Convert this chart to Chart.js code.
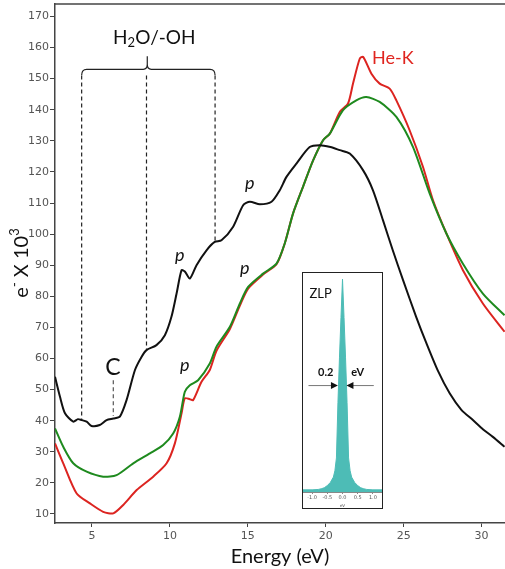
<!DOCTYPE html>
<html>
<head>
<meta charset="utf-8">
<script src="https://cdn.jsdelivr.net/npm/chart.js@4.4.0/dist/chart.umd.min.js"></script>
<style>
  body { margin: 0; background: #fff; }
  #wrap { position: relative; width: 505px; height: 569px; }
  #inset { position: absolute; left: 302px; top: 272px; width: 79px; height: 235px;
           border: 1px solid #222; background: #fff; }
</style>
</head>
<body>
<div id="wrap">
  <canvas id="main" width="505" height="569"></canvas>
  <div id="inset"><canvas id="zlp" width="79" height="235"></canvas></div>
</div>
<script>
// spectra (energy in eV, counts in e- x 10^3)
const blackEnergy = [2.63, 2.95, 3.27, 3.8, 4.1, 4.34, 4.66, 4.98, 5.5, 5.94, 6.37, 6.79, 7.22, 7.76, 8.18, 8.5, 9.14, 9.68, 10.1, 10.43, 10.75, 10.96, 11.28, 11.71, 12.35, 12.88, 13.31, 14.06, 14.7, 15.13, 15.77, 16.52, 17.05, 17.48, 18.12, 18.97, 19.6, 20.3, 20.9, 21.54, 22.4, 23.03, 23.67, 24.3, 24.96, 25.8, 26.45, 27.2, 27.95, 28.7, 29.44, 30.1, 30.72, 31.47];
const blackCounts = [54.1, 47.7, 42.4, 39.7, 40.5, 40.2, 39.7, 38.3, 38.6, 40.2, 40.7, 41.3, 46.6, 56.3, 60.5, 62.7, 64.3, 67.5, 73.4, 80.9, 88.4, 88.0, 85.7, 90, 94.8, 97.5, 98, 102.4, 109.3, 110.4, 109.6, 110.4, 114.1, 118.4, 122.7, 128, 128.6, 128, 127, 125.9, 120.5, 114.1, 104.5, 94.8, 85.2, 73.4, 65, 56, 48.8, 43.5, 40.2, 37.2, 34.8, 31.6];

const greenEnergy = [2.63, 3.16, 3.8, 4.66, 5.72, 6.58, 7.65, 8.72, 9.57, 10.21, 10.64, 10.96, 11.28, 11.81, 12.56, 12.99, 13.85, 14.49, 15.02, 15.98, 16.84, 17.37, 17.9, 18.54, 19.19, 19.83, 20.26, 21.1, 21.96, 22.6, 23.46, 24.53, 25.6, 26.67, 27.74, 28.8, 30.08, 31.47];
const greenCounts = [37.5, 31.6, 26.3, 23.6, 22, 22.5, 26.3, 29.5, 32.2, 35.9, 41.3, 49.3, 51.4, 53, 58.4, 63.8, 70.2, 77.7, 83, 87.3, 90.5, 97, 106.6, 115.2, 123.7, 130.2, 132.3, 139.8, 143, 144.1, 142.5, 137.7, 128, 113, 100.2, 90.5, 80.9, 73.9];

const redEnergy = [2.63, 3.16, 4.02, 4.87, 5.72, 6.37, 7.01, 7.87, 8.93, 9.79, 10.32, 10.75, 10.96, 11.28, 11.49, 12.03, 12.56, 12.99, 13.85, 14.49, 15.02, 15.98, 16.84, 17.37, 17.9, 18.54, 19.19, 19.83, 20.26, 20.9, 21.43, 21.75, 22.18, 22.4, 22.93, 23.46, 24.1, 24.53, 25.38, 26.24, 26.88, 27.74, 28.8, 30.08, 31.47];
const redCounts = [32.7, 26.3, 16.6, 13.4, 10.7, 10.2, 12.9, 17.7, 22, 26.3, 32.7, 42.4, 47.2, 46.9, 46.6, 52.5, 56.3, 62.5, 69.5, 77, 82.5, 87, 90.3, 97, 106.6, 115.2, 123.7, 130.2, 132.3, 139.3, 142, 148.4, 156.4, 157, 151.6, 148.4, 146.8, 143, 133.4, 121.6, 110.9, 100.2, 88.4, 77.7, 68.6];

// zero loss peak of the inset (relative height)
const zlpEnergy = [-1.3, -1.0, -0.8, -0.7, -0.6, -0.5, -0.4, -0.3, -0.25, -0.2, -0.15, -0.1, -0.05, 0, 0.05, 0.1, 0.15, 0.2, 0.25, 0.3, 0.4, 0.5, 0.6, 0.7, 0.8, 1.0, 1.3];
const zlpCounts = [0.01, 0.01, 0.012, 0.015, 0.02, 0.03, 0.045, 0.07, 0.1, 0.16, 0.42, 0.63, 0.82, 1, 0.82, 0.63, 0.42, 0.16, 0.1, 0.07, 0.045, 0.03, 0.02, 0.015, 0.012, 0.01, 0.01];

const xTicks = [5, 10, 15, 20, 25, 30];
const yTicks = [10, 20, 30, 40, 50, 60, 70, 80, 90, 100, 110, 120, 130, 140, 150, 160, 170];
const zlpTicks = [-1.0, -0.5, 0.0, 0.5, 1.0];

function toPoints(xs, ys) {
  return xs.map((v, i) => ({ x: v, y: ys[i] }));
}

// labels, dashed markers and brace
const annotations = {
  id: 'annotations',
  afterDatasetsDraw(chart) {
    const { ctx, chartArea: a, scales: { x, y } } = chart;
    const px = (v) => x.getPixelForValue(v);
    const py = (v) => y.getPixelForValue(v);
    ctx.save();

    // top frame line
    ctx.strokeStyle = '#444';
    ctx.lineWidth = 1.5;
    ctx.beginPath();
    ctx.moveTo(a.left, a.top);
    ctx.lineTo(a.right, a.top);
    ctx.stroke();

    // dashed markers under the brace
    ctx.strokeStyle = '#222';
    ctx.lineWidth = 1.2;
    ctx.setLineDash([4, 3]);
    [[4.34, 151, 40.5], [8.5, 151, 63], [12.9, 151, 97.8]].forEach(([e, top, bot]) => {
      ctx.beginPath();
      ctx.moveTo(px(e), py(top));
      ctx.lineTo(px(e), py(bot));
      ctx.stroke();
    });
    ctx.strokeStyle = '#555';
    ctx.beginPath();
    ctx.moveTo(px(6.37), py(53));
    ctx.lineTo(px(6.37), py(41.5));
    ctx.stroke();
    ctx.setLineDash([]);

    // brace
    const xl = px(4.34), xr = px(12.9), xc = px(8.55), yb = py(153);
    ctx.strokeStyle = '#222';
    ctx.lineWidth = 1.2;
    ctx.beginPath();
    ctx.moveTo(xl, yb + 6);
    ctx.quadraticCurveTo(xl, yb, xl + 5, yb);
    ctx.lineTo(xc - 4, yb);
    ctx.quadraticCurveTo(xc, yb, xc, yb - 5);
    ctx.lineTo(xc, yb - 13);
    ctx.moveTo(xc, yb - 5);
    ctx.quadraticCurveTo(xc, yb, xc + 4, yb);
    ctx.lineTo(xr - 5, yb);
    ctx.quadraticCurveTo(xr, yb, xr, yb + 6);
    ctx.stroke();

    // H2O/-OH
    ctx.fillStyle = '#111';
    ctx.textBaseline = 'middle';
    ctx.textAlign = 'left';
    const big = '19px Lato', small = '13px Lato';
    ctx.font = big;
    const wH = ctx.measureText('H').width;
    const wRest = ctx.measureText('O/-OH').width;
    ctx.font = small;
    const w2 = ctx.measureText('2').width;
    let tx = px(9.0) - (wH + w2 + wRest) / 2;
    const ty = py(163);
    ctx.font = big;
    ctx.fillText('H', tx, ty);
    ctx.font = small;
    ctx.fillText('2', tx + wH, ty + 5);
    ctx.font = big;
    ctx.fillText('O/-OH', tx + wH + w2, ty);

    // He-K
    ctx.textAlign = 'center';
    ctx.fillStyle = '#e0251f';
    ctx.font = '18px Lato';
    ctx.fillText('He-K', px(24.3), py(156.6));

    // C
    ctx.fillStyle = '#111';
    ctx.font = '23px Lato';
    ctx.fillText('C', px(6.35), py(57));

    // p labels
    ctx.font = 'italic 18px Lato';
    [[15.13, 116.3], [10.64, 93.2], [14.8, 89], [10.96, 57.9]].forEach(([e, v]) => {
      ctx.fillText('p', px(e), py(v));
    });

    // y axis title: e- X 10^3
    ctx.translate(22, 263);
    ctx.rotate(-Math.PI / 2);
    ctx.textAlign = 'left';
    const tb = '20px Lato', ts = '13px Lato';
    ctx.font = tb;
    const we = ctx.measureText('e').width;
    const wm = ctx.measureText(' X 10').width;
    ctx.font = ts;
    const wminus = ctx.measureText('-').width;
    const w3 = ctx.measureText('3').width;
    let sx = -(we + wminus + wm + w3) / 2;
    ctx.font = tb;
    ctx.fillText('e', sx, 0);
    ctx.font = ts;
    ctx.fillText('-', sx + we, -7);
    ctx.font = tb;
    ctx.fillText(' X 10', sx + we + wminus, 0);
    ctx.font = ts;
    ctx.fillText('3', sx + we + wminus + wm, -7);
    ctx.restore();
  },
};

const mainChart = new Chart(document.getElementById('main'), {
  type: 'line',
  data: {
    datasets: [
      { label: 'black', data: toPoints(blackEnergy, blackCounts), borderColor: '#111' },
      { label: 'green', data: toPoints(greenEnergy, greenCounts), borderColor: '#1e8a1e' },
      { label: 'He-K', data: toPoints(redEnergy, redCounts), borderColor: '#dc2420' },
    ],
  },
  options: {
    responsive: false,
    animation: false,
    layout: { padding: { top: 4, left: 0, right: 0, bottom: 0 } },
    elements: {
      point: { radius: 0 },
      line: { borderWidth: 2, tension: 0.25 },
    },
    plugins: {
      legend: { display: false },
      tooltip: { enabled: false },
    },
    scales: {
      x: {
        type: 'linear',
        min: 2.63,
        max: 31.5,
        afterBuildTicks: (s) => { s.ticks = xTicks.map((v) => ({ value: v })); },
        afterFit: (s) => { s.height = 46; s.paddingLeft = 0; s.paddingRight = 0; },
        ticks: { color: '#555', font: { family: 'DejaVu Sans', size: 11 }, padding: 3, maxRotation: 0 },
        grid: { drawOnChartArea: false, tickLength: 4, color: '#444' },
        border: { color: '#444', width: 1.5 },
        title: {
          display: true,
          text: 'Energy (eV)',
          color: '#111',
          font: { family: 'Lato', size: 20 },
          padding: { top: 0, bottom: 0 },
        },
      },
      y: {
        min: 7.1,
        max: 174,
        afterBuildTicks: (s) => { s.ticks = yTicks.map((v) => ({ value: v })); },
        afterFit: (s) => { s.width = 55; s.paddingTop = 0; s.paddingBottom = 0; },
        ticks: { color: '#555', font: { family: 'DejaVu Sans', size: 11 }, padding: 1 },
        grid: { drawOnChartArea: false, tickLength: 5, color: '#444' },
        border: { color: '#444', width: 1.5 },
      },
    },
  },
  plugins: [annotations],
});

// inset: zero loss peak
const zlpMarks = {
  id: 'zlpMarks',
  afterDatasetsDraw(chart) {
    const { ctx, scales: { x, y } } = chart;
    const px = (v) => x.getPixelForValue(v);
    const py = (v) => y.getPixelForValue(v);
    ctx.save();
    ctx.fillStyle = '#111';
    ctx.textBaseline = 'middle';
    ctx.textAlign = 'center';
    ctx.font = '13px Lato';
    ctx.fillText('ZLP', px(-0.72), py(0.93));
    ctx.font = 'bold 11px Lato';
    ctx.fillText('0.2', px(-0.55), py(0.56));
    ctx.fillText('eV', px(0.5), py(0.56));

    const ya = py(0.5);
    const arrow = (from, to) => {
      const dir = Math.sign(to - from);
      ctx.strokeStyle = '#777';
      ctx.lineWidth = 1;
      ctx.beginPath();
      ctx.moveTo(px(from), ya);
      ctx.lineTo(px(to) - dir * 5, ya);
      ctx.stroke();
      ctx.fillStyle = '#111';
      ctx.beginPath();
      ctx.moveTo(px(to), ya);
      ctx.lineTo(px(to) - dir * 7, ya - 3.5);
      ctx.lineTo(px(to) - dir * 7, ya + 3.5);
      ctx.closePath();
      ctx.fill();
    };
    arrow(-1.12, -0.15);
    arrow(1.03, 0.13);
    ctx.restore();
  },
};

const zlpChart = new Chart(document.getElementById('zlp'), {
  type: 'line',
  data: {
    datasets: [{
      label: 'ZLP',
      data: toPoints(zlpEnergy, zlpCounts),
      borderColor: '#4dbcb6',
      backgroundColor: '#4dbcb6',
      borderWidth: 1,
      fill: 'origin',
      pointRadius: 0,
      tension: 0,
    }],
  },
  options: {
    responsive: false,
    animation: false,
    layout: { padding: { top: 4, left: 0, right: 0, bottom: 0 } },
    plugins: { legend: { display: false }, tooltip: { enabled: false } },
    scales: {
      x: {
        type: 'linear',
        min: -1.3,
        max: 1.3,
        afterBuildTicks: (s) => { s.ticks = zlpTicks.map((v) => ({ value: v })); },
        afterFit: (s) => { s.height = 16; s.paddingLeft = 0; s.paddingRight = 0; },
        ticks: {
          color: '#555',
          font: { family: 'DejaVu Sans', size: 5 },
          padding: 1,
          maxRotation: 0,
          callback: (v) => v.toFixed(1),
        },
        grid: { drawOnChartArea: false, tickLength: 2, color: '#888' },
        border: { color: '#888', width: 1 },
        title: { display: true, text: 'eV', color: '#555', font: { family: 'DejaVu Sans', size: 4 }, padding: 0 },
      },
      y: { display: false, min: 0, max: 1.01 },
    },
  },
  plugins: [zlpMarks],
});
</script>
</body>
</html>
